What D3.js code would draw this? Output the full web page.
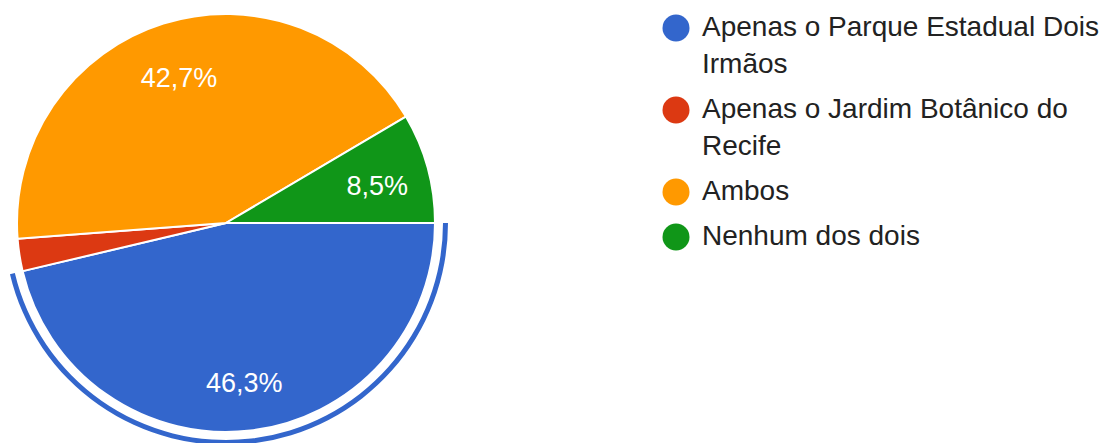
<!DOCTYPE html>
<html>
<head>
<meta charset="utf-8">
<title>Pie</title>
<script src="https://d3js.org/d3.v7.min.js"></script>
<style>
body { margin:0; background:#fff; }
text { font-family: "Liberation Sans", Arial, sans-serif; }
</style>
</head>
<body>
<script>
var categories = ["Apenas o Parque Estadual Dois Irmãos", "Apenas o Jardim Botânico do Recife", "Ambos", "Nenhum dos dois"];
var legendLines = [["Apenas o Parque Estadual Dois", "Irmãos"], ["Apenas o Jardim Botânico do", "Recife"], ["Ambos"], ["Nenhum dos dois"]];
var values = [46.3, 2.5, 42.7, 8.5];
var labels = ["46,3%", "", "42,7%", "8,5%"];
var colors = ["#3366cc", "#dc3912", "#ff9900", "#109618"];

var W = 1107, H = 443;
var cx = 226, cy = 223, r = 209;

var svg = d3.select("body").append("svg")
    .attr("width", W).attr("height", H);

var pie = d3.pie().sort(null)
    .startAngle(Math.PI / 2).endAngle(Math.PI / 2 + 2 * Math.PI)
    .value(function(d){ return d; });
var arcs = pie(values);

var arc = d3.arc().innerRadius(0).outerRadius(r);
var g = svg.append("g").attr("transform", "translate(" + cx + "," + cy + ")");

g.selectAll("path.slice").data(arcs).enter().append("path")
    .attr("class", "slice")
    .attr("d", arc)
    .attr("fill", function(d, i){ return colors[i]; })
    .attr("stroke", "#fff").attr("stroke-width", 2);

// highlight ring on the first slice
var ring = d3.arc().innerRadius(r + 8).outerRadius(r + 13);
g.append("path").attr("d", ring(arcs[0])).attr("fill", colors[0]);

var labelArc = d3.arc().innerRadius(r * 0.75).outerRadius(r * 0.75);
g.selectAll("text.lbl").data(arcs).enter().append("text")
    .attr("class", "lbl")
    .attr("transform", function(d){ return "translate(" + labelArc.centroid(d) + ")"; })
    .attr("text-anchor", "middle").attr("dy", "0.5em")
    .attr("fill", "#fff").style("font-size", "27px")
    .text(function(d, i){ return labels[i]; });

// legend
var lx = 676;
var lineH = 37, gapH = 8, firstBase = 36;
var leg = svg.append("g");
var base = firstBase;
legendLines.forEach(function(lines, i){
  leg.append("circle").attr("cx", lx).attr("cy", base - 8).attr("r", 13.5).attr("fill", colors[i]);
  var t = leg.append("text").attr("x", 702).attr("y", base)
      .attr("fill", "#222").style("font-size", "28px");
  lines.forEach(function(s, j){
    t.append("tspan").attr("x", 702).attr("y", base + j * lineH).text(s);
  });
  base += lines.length * lineH + gapH;
});
</script>
</body>
</html>
